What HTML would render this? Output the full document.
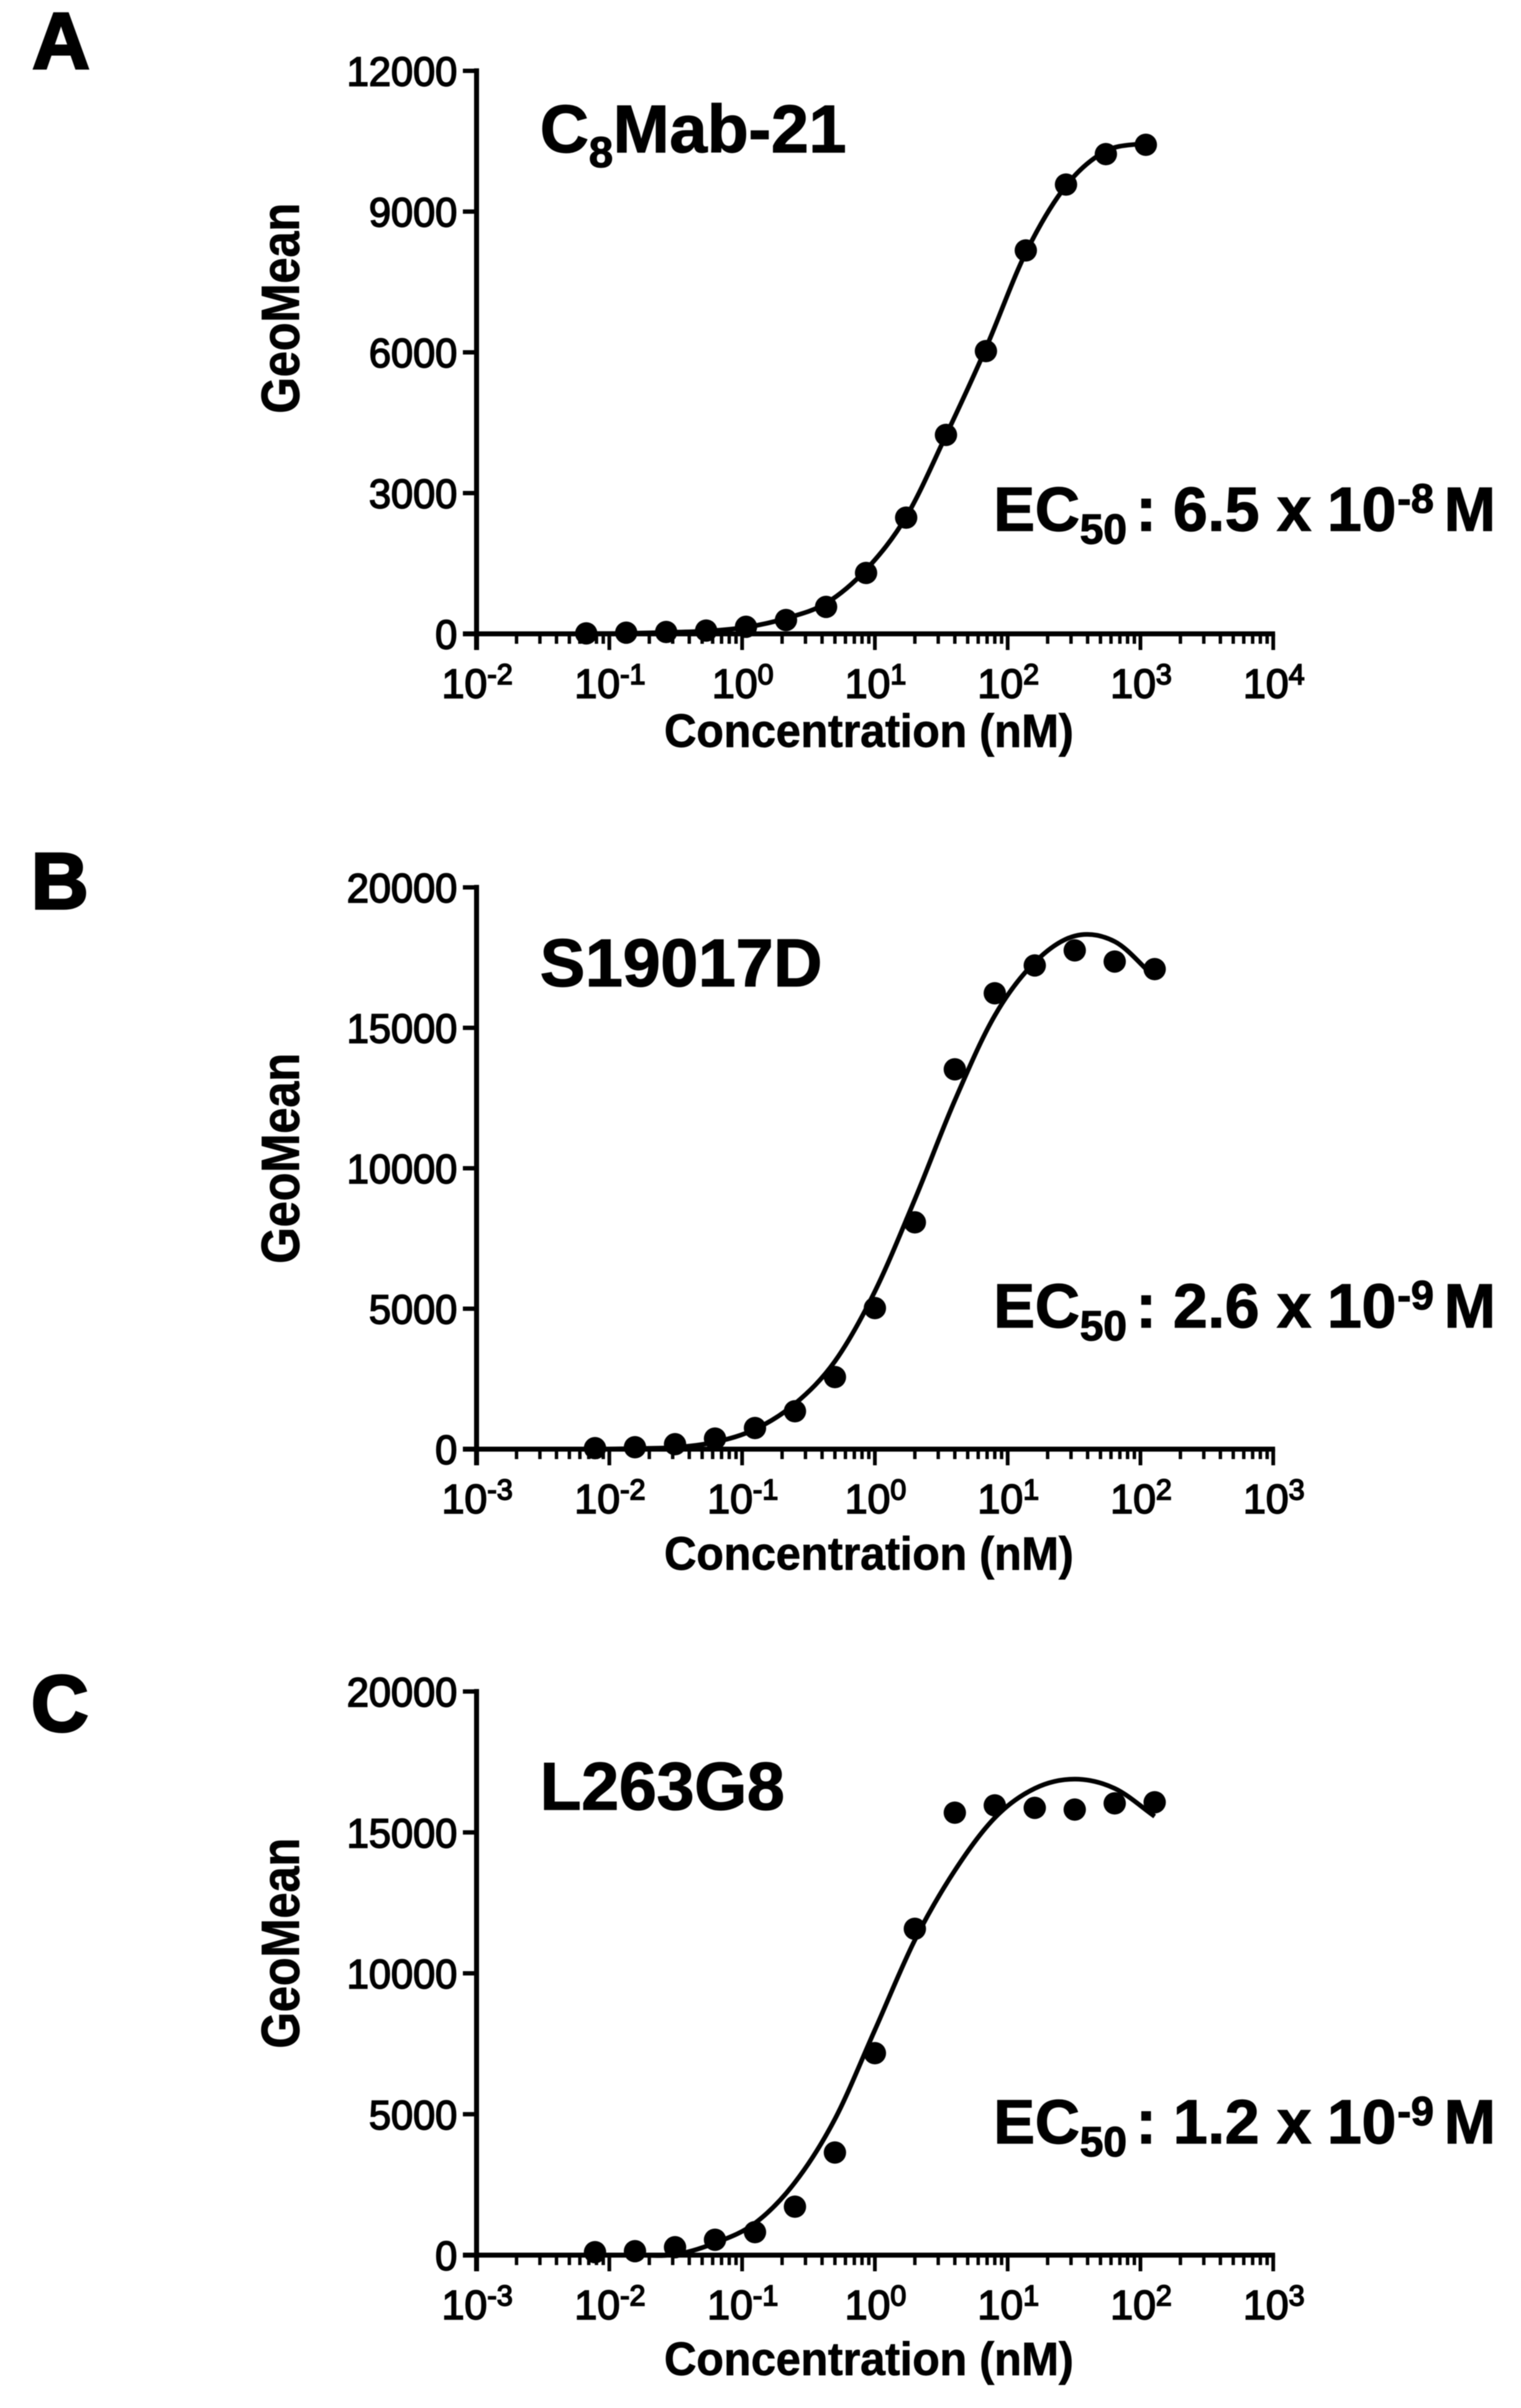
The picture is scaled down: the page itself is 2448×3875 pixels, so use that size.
<!DOCTYPE html>
<html lang="en">
<head>
<meta charset="utf-8">
<title>EC50 binding curves</title>
<style>
html,body{margin:0;padding:0;background:#fff;}
body{width:2448px;height:3875px;overflow:hidden;}
svg{display:block;filter:blur(0.7px);}
text{font-family:"Liberation Sans",sans-serif;fill:#000;}
.b{font-weight:700;stroke:#000;stroke-width:1px;}
.t{font-size:66px;font-weight:400;stroke:#000;stroke-width:2.2px;}
.sup{font-size:46px;}
.title{font-size:109px;font-weight:700;stroke:#000;stroke-width:1.5px;}
.ec{font-size:100px;font-weight:700;stroke:#000;stroke-width:1.5px;}
.letter{font-size:128px;font-weight:700;stroke:#000;stroke-width:4px;}
</style>
</head>
<body>
<svg id="figure" xmlns="http://www.w3.org/2000/svg" width="2448" height="3875" viewBox="0 0 2448 3875">
<rect width="2448" height="3875" fill="#fff"/>

<text class="letter" x="52" y="110">A</text>
<text class="letter" x="50" y="1462">B</text>
<text class="letter" x="50" y="2786">C</text>

<text class="title" x="869" y="245">C<tspan font-size="70" dy="24">8</tspan><tspan dy="-24">Mab-21</tspan></text>
<text class="title" x="869" y="1587">S19017D</text>
<text class="title" x="869" y="2912">L263G8</text>

<text class="ec"><tspan x="1599" y="854">EC</tspan><tspan x="1738" y="875" font-size="68">50</tspan><tspan x="1828" y="854">:</tspan><tspan x="1888" y="854">6.5</tspan><tspan x="2055" y="854">x</tspan><tspan x="2136" y="854">10</tspan><tspan x="2249" y="825" font-size="66">-8</tspan><tspan x="2324" y="854">M</tspan></text>
<text class="ec"><tspan x="1599" y="2136">EC</tspan><tspan x="1738" y="2157" font-size="68">50</tspan><tspan x="1828" y="2136">:</tspan><tspan x="1888" y="2136">2.6</tspan><tspan x="2055" y="2136">x</tspan><tspan x="2136" y="2136">10</tspan><tspan x="2249" y="2107" font-size="66">-9</tspan><tspan x="2324" y="2136">M</tspan></text>
<text class="ec"><tspan x="1599" y="3449">EC</tspan><tspan x="1738" y="3470" font-size="68">50</tspan><tspan x="1828" y="3449">:</tspan><tspan x="1888" y="3449">1.2</tspan><tspan x="2055" y="3449">x</tspan><tspan x="2136" y="3449">10</tspan><tspan x="2249" y="3420" font-size="66">-9</tspan><tspan x="2324" y="3449">M</tspan></text>
</svg>

<script>
// Panel A data
const concA = [0.067,0.134,0.268,0.536,1.07,2.14,4.29,8.58,17.2,34.3,68.6,137,275,549,1098];
const valuesA = [10,25,40,70,150,295,574,1298,2477,4240,6026,8172,9576,10225,10424];
const fitA = [5,10,30,60,140,331,653,1368,2494,4230,6090,8123,9550,10290,10463];
const yTicksA = ['0','3000','6000','9000','12000'];
const xExpA = ['-2','-1','0','1','2','3','4'];

// Panel B data
const concB = [0.0078,0.0156,0.03125,0.0625,0.125,0.25,0.5,1,2,4,8,16,32,64,128];
const valuesB = [35,70,176,376,752,1350,2566,5021,8074,13522,16230,17220,17757,17360,17090];
const fitB = [0,20,60,250,708,1615,3128,5618,8892,12416,15437,17335,18270,18070,16800];
const yTicksB = ['0','5000','10000','15000','20000'];
const xExpB = ['-3','-2','-1','0','1','2','3'];

// Panel C data
const concC = [0.0078,0.0156,0.03125,0.0625,0.125,0.25,0.5,1,2,4,8,16,32,64,128];
const valuesC = [105,140,280,545,816,1720,3640,7166,11580,15700,15960,15870,15810,16030,16070];
const fitC = [0,0,20,430,1134,2580,4830,7990,11180,13650,15520,16560,16890,16560,15570];
const yTicksC = ['0','5000','10000','15000','20000'];
const xExpC = ['-3','-2','-1','0','1','2','3'];

const NS = 'http://www.w3.org/2000/svg';
const svg = document.getElementById('figure');

function mk(tag, parent, attrs){
  const el = document.createElementNS(NS, tag);
  for (const k in attrs) el.setAttribute(k, attrs[k]);
  parent.appendChild(el);
  return el;
}

function smoothPath(px){
  const n = px.length;
  let d = 'M' + px[0][0].toFixed(1) + ' ' + px[0][1].toFixed(1);
  for (let i = 0; i < n - 1; i++){
    const p1 = px[i], p2 = px[i+1];
    const p0 = i > 0 ? px[i-1] : [2*p1[0]-p2[0], 2*p1[1]-p2[1]];
    const p3 = i < n-2 ? px[i+2] : [2*p2[0]-p1[0], 2*p2[1]-p1[1]];
    const c1x = p1[0] + (p2[0]-p0[0])/6, c1y = p1[1] + (p2[1]-p0[1])/6;
    const c2x = p2[0] - (p3[0]-p1[0])/6, c2y = p2[1] - (p3[1]-p1[1])/6;
    d += 'C' + [c1x,c1y,c2x,c2y,p2[0],p2[1]].map(v => v.toFixed(1)).join(' ');
  }
  return d;
}

function drawPanel(key, top, base, titleOff, labelCenter, conc, values, fit, yTicks, xExp){
  const left = 767, decade = 213.7;
  const minExp = Number(xExp[0]);
  const maxExp = Number(xExp[xExp.length-1]);
  const yMax = Number(yTicks[yTicks.length-1]);
  const xScale = c => left + (Math.log10(c) - minExp) * decade;
  const yScale = v => base - (v / yMax) * (base - top);

  const g = mk('g', svg, {});
  
  

  // y axis
  const yAxis = mk('line', g, {x1:left, x2:left, y1:top-4, y2:base+26, stroke:'#000', 'stroke-width':8});
  
  

  // x axis
  const xAxis = mk('line', g, {x1:left-22, x2:xScale(Math.pow(10,maxExp))+3, y1:base, y2:base, stroke:'#000', 'stroke-width':8});
  
  

  // y ticks
  yTicks.forEach(lbl => {
    const y = yScale(Number(lbl));
    const tick = mk('line', g, {x1:left-22, x2:left, y1:y, y2:y, stroke:'#000', 'stroke-width':7});
    
    
    const t = mk('text', g, {x:736, y:y+24, 'text-anchor':'end', class:'t', textLength:(lbl.length*0.556*64).toFixed(1), lengthAdjust:'spacingAndGlyphs'});
    t.textContent = lbl;
    
    
  });

  // x ticks
  xExp.forEach((e, i) => {
    const x = xScale(Math.pow(10, Number(e)));
    const tick = mk('line', g, {x1:x, x2:x, y1:base, y2:base+26, stroke:'#000', 'stroke-width':6});
    
    
    if (i < xExp.length - 1){
      for (let m = 2; m < 10; m++){
        const mx = xScale(m * Math.pow(10, Number(e)));
        const minor = mk('line', g, {x1:mx, x2:mx, y1:base, y2:base+16, stroke:'#000', 'stroke-width':5.5});
        
        
      }
    }
    const t = mk('text', g, {x:x+1, y:base+103, 'text-anchor':'middle', class:'t'});
    
    
    t.appendChild(document.createTextNode('10'));
    const s = mk('tspan', t, {dy:-22, class:'sup'});
    s.textContent = e;
  });

  // fit curve
  const pts = conc.map((c, i) => [xScale(c), yScale(fit[i])]);
  const curve = mk('path', g, {d:smoothPath(pts), fill:'none', stroke:'#000', 'stroke-width':7.5, 'stroke-linejoin':'round'});
  
  

  // data points
  conc.forEach((c, i) => {
    const dot = mk('circle', g, {cx:xScale(c), cy:yScale(values[i]), r:18, fill:'#000'});
    
    
  });

  // axis titles
  const xt = mk('text', g, {x:1069, y:base+titleOff, class:'b', 'font-size':75, textLength:659, lengthAdjust:'spacingAndGlyphs'});
  xt.textContent = 'Concentration (nM)';
  
  

  const yt = mk('text', g, {x:0, y:0, class:'b', 'font-size':86, 'text-anchor':'middle', textLength:339, lengthAdjust:'spacingAndGlyphs',
    transform:'translate(481,' + labelCenter + ') rotate(-90)'});
  yt.textContent = 'GeoMean';
  
  
}

drawPanel('a', 114, 1020, 182, 496, concA, valuesA, fitA, yTicksA, xExpA);
drawPanel('b', 1428, 2332, 194, 1864, concB, valuesB, fitB, yTicksB, xExpB);
drawPanel('c', 2722, 3629, 193, 3127, concC, valuesC, fitC, yTicksC, xExpC);
</script>
</body>
</html>
